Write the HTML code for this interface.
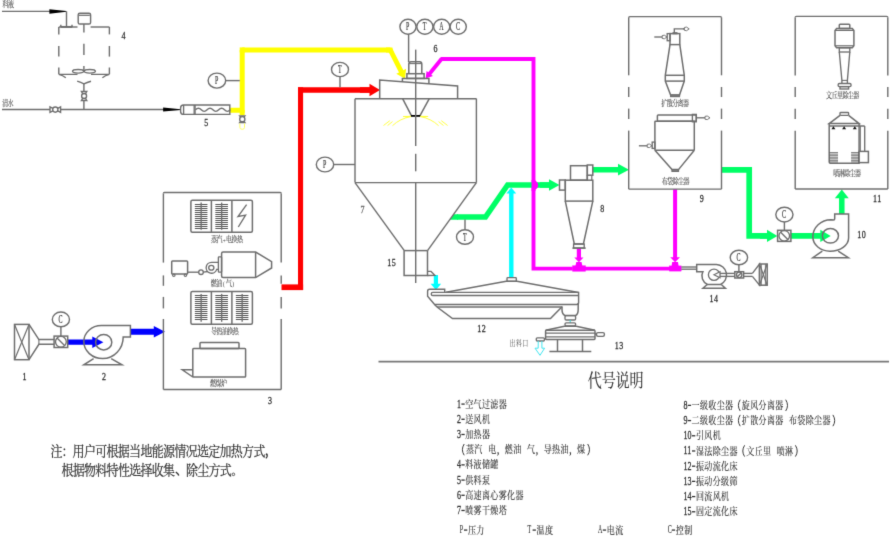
<!DOCTYPE html>
<html><head><meta charset="utf-8"><title>Spray drying process flow</title>
<style>
html,body{margin:0;padding:0;background:#fff;}
body{width:890px;height:536px;overflow:hidden;font-family:"Liberation Serif",serif;}
svg{display:block}
svg text{font-family:"Liberation Serif","Noto Serif CJK SC",serif;}
.ci{font-size:12px;fill:#333;stroke:#333;stroke-width:.18px}
.n{font-size:10px;fill:#2a2a2a;stroke:#2a2a2a;stroke-width:.25px;letter-spacing:.54px}
.s{font-size:8px;fill:#4a4a4a;stroke:#4a4a4a;stroke-width:.12px;letter-spacing:-.7px}
.s6{font-size:8px;fill:#666;stroke:#666;stroke-width:.2px;letter-spacing:-.9px}
.p6{font-size:6px;fill:#4a4a4a}
.lg{font-size:10px;fill:#303030;stroke:#303030;stroke-width:.125px;letter-spacing:.475px}
.ld{font-size:12px;fill:#303030;stroke:#303030;stroke-width:.3px;letter-spacing:.05px}
.lp{font-size:12px;fill:#303030;stroke:#303030;stroke-width:.12px}
.nt{font-size:14px;fill:#303030;stroke:#303030;stroke-width:.21px;letter-spacing:-.79px}
.tt{font-size:18px;fill:#303030;stroke:#303030;stroke-width:.135px;letter-spacing:-.13px}
</style></head><body>
<svg width="890" height="536" viewBox="0 0 890 536">
<defs><filter id="soft" x="0" y="0" width="100%" height="100%" filterUnits="userSpaceOnUse" color-interpolation-filters="sRGB"><feConvolveMatrix order="3" kernelMatrix="0.011 0.084 0.011 0.084 0.62 0.084 0.011 0.084 0.011" divisor="1" edgeMode="duplicate" preserveAlpha="true"/></filter></defs>
<rect width="890" height="536" fill="#fff"/>
<g filter="url(#soft)">
<rect x="-5" y="-5" width="900" height="546" fill="#fff"/>
<polyline points="229.8,110.2 242.2,110.2 242.2,49.9" fill="none" stroke="#ffff00" stroke-width="5" stroke-linejoin="miter"/>
<polyline points="242.2,49.9 390.3,49.9" fill="none" stroke="#ffff00" stroke-width="5" stroke-linejoin="miter"/>
<polygon points="239.7,47.4 244.7,47.4 244.7,52.4 239.7,52.4" fill="#ffff00"/>
<polygon points="388.12,51.11 399,72.43 396.28,73.82 405,78.8 406.08,68.82 403.36,70.2 392.48,48.89" fill="#ffff00"/>
<polygon points="386,47.4 392.4,47.4 393.5,52.4 386,52.4" fill="#ffff00"/>
<polyline points="242.2,110 242.2,115.2" fill="none" stroke="#ffff00" stroke-width="5" stroke-linejoin="miter"/>
<polygon points="281.5,284.4 303.1,284.4 303.1,290.1 281.5,290.1" fill="#ff0000"/>
<polygon points="298,87.2 303.1,87.2 303.1,290.1 298,290.1" fill="#ff0000"/>
<polygon points="298,87.2 371,87.2 371,92.8 298,92.8" fill="#ff0000"/>
<polygon points="360,92.8 369.5,92.8 369.5,96.25 380,90 369.5,83.75 369.5,87.2 360,87.2" fill="#ff0000"/>
<polygon points="67.7,344.85 92.3,344.85 92.3,347.9 103.4,342.2 92.3,336.5 92.3,339.55 67.7,339.55" fill="#0000ff"/>
<polygon points="130.8,334.8 153.8,334.8 153.8,337.6 165,331.8 153.8,326 153.8,328.8 130.8,328.8" fill="#0000ff"/>
<line x1="2" y1="11.4" x2="50" y2="11.4" stroke="#6e6e6e" stroke-width="1.42" />
<polygon points="49.4,9.2 66.3,11.1 66.3,11.8 49.4,13.7" fill="#000"/>
<line x1="66.5" y1="11.3" x2="66.5" y2="26.9" stroke="#6e6e6e" stroke-width="1.42" />
<line x1="60.6" y1="26.9" x2="72.3" y2="26.9" stroke="#6e6e6e" stroke-width="1.89" />
<line x1="60.8" y1="24.8" x2="60.8" y2="27" stroke="#6e6e6e" stroke-width="1.42" />
<line x1="72" y1="24.8" x2="72" y2="27" stroke="#6e6e6e" stroke-width="1.42" />
<line x1="58.8" y1="27" x2="77.5" y2="27" stroke="#6e6e6e" stroke-width="1.42" />
<line x1="90.6" y1="27" x2="109.4" y2="27" stroke="#6e6e6e" stroke-width="1.42" />
<line x1="58.8" y1="27" x2="58.8" y2="34.4" stroke="#6e6e6e" stroke-width="1.42" />
<line x1="58.8" y1="46" x2="58.8" y2="56.6" stroke="#6e6e6e" stroke-width="1.42" />
<line x1="58.8" y1="67.5" x2="58.8" y2="74.2" stroke="#6e6e6e" stroke-width="1.42" />
<line x1="109.4" y1="27" x2="109.4" y2="34.4" stroke="#6e6e6e" stroke-width="1.42" />
<line x1="109.4" y1="46" x2="109.4" y2="56.6" stroke="#6e6e6e" stroke-width="1.42" />
<line x1="109.4" y1="67.5" x2="109.4" y2="74.2" stroke="#6e6e6e" stroke-width="1.42" />
<path d="M58.8,74.4 L77.5,74.4 M58.8,74.4 Q63,75.5 65.8,77.8" fill="none" stroke="#6e6e6e" stroke-width="1.42" />
<path d="M109.4,74.4 L91,74.4 M109.4,74.4 Q105,75.5 102.4,77.8" fill="none" stroke="#6e6e6e" stroke-width="1.42" />
<rect x="78.2" y="13.2" width="12.4" height="10.8" rx="1.6" fill="none" stroke="#6e6e6e" stroke-width="1.42"/>
<line x1="79" y1="15.3" x2="89.8" y2="15.3" stroke="#6e6e6e" stroke-width="1.22" />
<line x1="83.9" y1="24" x2="83.9" y2="32.5" stroke="#6e6e6e" stroke-width="1.42" />
<line x1="83.9" y1="43.8" x2="83.9" y2="55" stroke="#6e6e6e" stroke-width="1.42" />
<line x1="83.9" y1="66" x2="83.9" y2="71.5" stroke="#6e6e6e" stroke-width="1.42" />
<ellipse cx="78.1" cy="71.3" rx="5.6" ry="1.8" fill="none" stroke="#6e6e6e" stroke-width="1.35"/>
<ellipse cx="89.8" cy="71.3" rx="5.6" ry="1.8" fill="none" stroke="#6e6e6e" stroke-width="1.35"/>
<path d="M77.2,81.2 Q81,82.5 83.9,83.8 Q87,82.5 91,81.2" fill="none" stroke="#6e6e6e" stroke-width="1.42" />
<line x1="83.9" y1="83.8" x2="83.9" y2="109.4" stroke="#6e6e6e" stroke-width="1.42" />
<polygon points="81.4,91.5 86.8,91.5 81.4,100.5 86.8,100.5" fill="#fff" stroke="#6e6e6e" stroke-width="1.35" />
<ellipse cx="84.1" cy="96" rx="2.5" ry="2.5" fill="#fff" stroke="#6e6e6e" stroke-width="1.35"/>
<line x1="2" y1="109.5" x2="164" y2="109.5" stroke="#6e6e6e" stroke-width="1.42" />
<polygon points="50,106.8 50,112.4 60.6,106.8 60.6,112.4" fill="#fff" stroke="#6e6e6e" stroke-width="1.35" />
<ellipse cx="55.3" cy="109.6" rx="2.6" ry="2.6" fill="#fff" stroke="#6e6e6e" stroke-width="1.35"/>
<polygon points="163.1,107.6 180.6,109.2 180.6,109.9 163.1,111.5" fill="#000"/>
<path d="M183.6,105 L229.8,105 L229.8,114.4 L183.6,114.4 Q180.6,114.4 180.6,111.4 L180.6,108 Q180.6,105 183.6,105 Z" fill="#fff" stroke="#6e6e6e" stroke-width="1.42" />
<line x1="183.6" y1="105" x2="183.6" y2="114.4" stroke="#6e6e6e" stroke-width="1.35" />
<line x1="194.2" y1="105" x2="194.2" y2="114.4" stroke="#6e6e6e" stroke-width="1.35" />
<line x1="195.2" y1="105" x2="195.2" y2="114.4" stroke="#6e6e6e" stroke-width="1.08" />
<path d="M195.5,109.8 c1.9,-2.1 3.9,-2.1 5.8,0 c1.9,2.1 3.9,2.1 5.8,0 c1.9,-2.1 3.9,-2.1 5.8,0 c1.9,2.1 3.9,2.1 5.8,0 c1.9,-2.1 3.9,-2.1 5.8,0 c1.9,2.1 3.9,2.1 5.8,0" fill="none" stroke="#6e6e6e" stroke-width="1.35" />
<polygon points="239.7,115.8 244.9,115.8 239.7,122.6 244.9,122.6" fill="#fff" stroke="#6e6e6e" stroke-width="1.35" />
<ellipse cx="242.3" cy="119.2" rx="2.6" ry="2.6" fill="#fff" stroke="#6e6e6e" stroke-width="1.35"/>
<path d="M239.9,123.4 L239.9,127.5 Q239.9,129.3 242.2,129.3 Q244.5,129.3 244.5,127.5 L244.5,123.4" fill="none" stroke="#ffff66" stroke-width="1" />
<line x1="225.7" y1="80.6" x2="239.8" y2="80.6" stroke="#6e6e6e" stroke-width="1.42" />
<ellipse cx="216.9" cy="80.6" rx="8.8" ry="7.5" fill="#fff" stroke="#6e6e6e" stroke-width="1.42"/>
<text class="ci" transform="translate(214.97,84.1) scale(0.5,1)">P</text>
<text class="n" transform="translate(121.6,38.7) scale(0.8,1)">4</text>
<text class="n" transform="translate(204.2,126) scale(0.8,1)">5</text>
<text class="s6" transform="translate(2.6,7.28) scale(0.75,1)" letter-spacing="-1.07">料液</text>
<text class="s6" transform="translate(2.2,105.61) scale(0.75,1)" letter-spacing="-0.8">清水</text>
<rect x="14.5" y="324.4" width="14.5" height="35.3" rx="0" fill="none" stroke="#6e6e6e" stroke-width="1.49"/>
<line x1="14.5" y1="324.4" x2="29" y2="359.7" stroke="#6e6e6e" stroke-width="1.22" />
<line x1="14.5" y1="359.7" x2="29" y2="324.4" stroke="#6e6e6e" stroke-width="1.22" />
<polyline points="29,324.4 38.9,339.6 54.1,339.6" fill="none" stroke="#6e6e6e" stroke-width="1.49" />
<polyline points="29,359.7 38.9,344.3 54.1,344.3" fill="none" stroke="#6e6e6e" stroke-width="1.49" />
<line x1="38.9" y1="339.6" x2="38.9" y2="344.3" stroke="#6e6e6e" stroke-width="1.08" />
<rect x="54.1" y="336.1" width="13.6" height="11.4" rx="0" fill="#fff" stroke="#6e6e6e" stroke-width="1.49"/>
<ellipse cx="60.9" cy="341.8" rx="5.4" ry="5.4" fill="none" stroke="#6e6e6e" stroke-width="1.35"/>
<line x1="57.01" y1="337.91" x2="64.79" y2="345.69" stroke="#6e6e6e" stroke-width="1.35" />
<line x1="60.9" y1="326.7" x2="60.9" y2="336.1" stroke="#6e6e6e" stroke-width="1.42" />
<ellipse cx="60.9" cy="319.4" rx="8.6" ry="7.4" fill="#fff" stroke="#6e6e6e" stroke-width="1.42"/>
<text class="ci" transform="translate(58.58,322.9) scale(0.5,1)">C</text>
<path d="M101.4,325.6 L130.4,325.6 L130.4,337 L123.2,337 A20.5,21.6 0 0 1 102.7,358.6 A18.9,17 0 0 1 83.8,341.6 A17.6,16 0 0 1 101.4,325.6" fill="none" stroke="#6e6e6e" stroke-width="1.49" />
<ellipse cx="103.7" cy="342.2" rx="8.1" ry="7.7" fill="none" stroke="#6e6e6e" stroke-width="1.49"/>
<polyline points="93.6,358.6 83.8,364.8 122,364.8 111.2,358.6" fill="none" stroke="#6e6e6e" stroke-width="1.49" />
<text class="n" transform="translate(22.5,379.6) scale(0.8,1)">1</text>
<text class="n" transform="translate(102,379.6) scale(0.8,1)">2</text>
<path d="M163.4,193.5 Q163.4,192.5 164.4,192.5 L280.2,192.5 Q281.2,192.5 281.2,193.5" fill="none" stroke="#6e6e6e" stroke-width="1.42" />
<line x1="163.4" y1="389.5" x2="281.2" y2="389.5" stroke="#6e6e6e" stroke-width="1.42" />
<line x1="163.4" y1="193.5" x2="163.4" y2="262.6" stroke="#6e6e6e" stroke-width="1.42" />
<line x1="163.4" y1="275.4" x2="163.4" y2="285.8" stroke="#6e6e6e" stroke-width="1.42" />
<line x1="163.4" y1="296.9" x2="163.4" y2="308.4" stroke="#6e6e6e" stroke-width="1.42" />
<line x1="163.4" y1="319" x2="163.4" y2="389.5" stroke="#6e6e6e" stroke-width="1.42" />
<line x1="281.2" y1="193.5" x2="281.2" y2="262.6" stroke="#6e6e6e" stroke-width="1.42" />
<line x1="281.2" y1="275.4" x2="281.2" y2="283.8" stroke="#6e6e6e" stroke-width="1.42" />
<line x1="281.2" y1="296.9" x2="281.2" y2="308.4" stroke="#6e6e6e" stroke-width="1.42" />
<line x1="281.2" y1="319" x2="281.2" y2="389.5" stroke="#6e6e6e" stroke-width="1.42" />
<rect x="190.9" y="200.2" width="61.5" height="32" rx="1.5" fill="none" stroke="#6e6e6e" stroke-width="1.49"/>
<line x1="211.4" y1="200.2" x2="211.4" y2="232.2" stroke="#6e6e6e" stroke-width="1.49" />
<line x1="231.9" y1="200.2" x2="231.9" y2="232.2" stroke="#6e6e6e" stroke-width="1.49" />
<line x1="194.85" y1="204.5" x2="207.45" y2="204.5" stroke="#555" stroke-width="1" />
<line x1="194.85" y1="206.5" x2="207.45" y2="206.5" stroke="#555" stroke-width="1" />
<line x1="194.85" y1="208.5" x2="207.45" y2="208.5" stroke="#555" stroke-width="1" />
<line x1="194.85" y1="210.5" x2="207.45" y2="210.5" stroke="#555" stroke-width="1" />
<line x1="194.85" y1="212.5" x2="207.45" y2="212.5" stroke="#555" stroke-width="1" />
<line x1="194.85" y1="214.5" x2="207.45" y2="214.5" stroke="#555" stroke-width="1" />
<line x1="194.85" y1="216.5" x2="207.45" y2="216.5" stroke="#555" stroke-width="1" />
<line x1="194.85" y1="218.5" x2="207.45" y2="218.5" stroke="#555" stroke-width="1" />
<line x1="194.85" y1="220.5" x2="207.45" y2="220.5" stroke="#555" stroke-width="1" />
<line x1="194.85" y1="222.5" x2="207.45" y2="222.5" stroke="#555" stroke-width="1" />
<line x1="194.85" y1="224.5" x2="207.45" y2="224.5" stroke="#555" stroke-width="1" />
<line x1="194.85" y1="226.5" x2="207.45" y2="226.5" stroke="#555" stroke-width="1" />
<line x1="194.85" y1="228.5" x2="207.45" y2="228.5" stroke="#555" stroke-width="1" />
<line x1="201.15" y1="202.6" x2="201.15" y2="229.8" stroke="#6e6e6e" stroke-width="1.35" />
<line x1="215.35" y1="204.5" x2="227.95" y2="204.5" stroke="#555" stroke-width="1" />
<line x1="215.35" y1="206.5" x2="227.95" y2="206.5" stroke="#555" stroke-width="1" />
<line x1="215.35" y1="208.5" x2="227.95" y2="208.5" stroke="#555" stroke-width="1" />
<line x1="215.35" y1="210.5" x2="227.95" y2="210.5" stroke="#555" stroke-width="1" />
<line x1="215.35" y1="212.5" x2="227.95" y2="212.5" stroke="#555" stroke-width="1" />
<line x1="215.35" y1="214.5" x2="227.95" y2="214.5" stroke="#555" stroke-width="1" />
<line x1="215.35" y1="216.5" x2="227.95" y2="216.5" stroke="#555" stroke-width="1" />
<line x1="215.35" y1="218.5" x2="227.95" y2="218.5" stroke="#555" stroke-width="1" />
<line x1="215.35" y1="220.5" x2="227.95" y2="220.5" stroke="#555" stroke-width="1" />
<line x1="215.35" y1="222.5" x2="227.95" y2="222.5" stroke="#555" stroke-width="1" />
<line x1="215.35" y1="224.5" x2="227.95" y2="224.5" stroke="#555" stroke-width="1" />
<line x1="215.35" y1="226.5" x2="227.95" y2="226.5" stroke="#555" stroke-width="1" />
<line x1="215.35" y1="228.5" x2="227.95" y2="228.5" stroke="#555" stroke-width="1" />
<line x1="221.65" y1="202.6" x2="221.65" y2="229.8" stroke="#6e6e6e" stroke-width="1.35" />
<polyline points="246.6,204.6 238,216.5 245.6,215.2 238.3,227" fill="none" stroke="#6e6e6e" stroke-width="1.35" />
<rect x="190.9" y="291.5" width="61.5" height="32.7" rx="1.5" fill="none" stroke="#6e6e6e" stroke-width="1.49"/>
<line x1="211.4" y1="291.5" x2="211.4" y2="324.2" stroke="#6e6e6e" stroke-width="1.49" />
<line x1="231.9" y1="291.5" x2="231.9" y2="324.2" stroke="#6e6e6e" stroke-width="1.49" />
<line x1="194.85" y1="295.5" x2="207.45" y2="295.5" stroke="#555" stroke-width="1" />
<line x1="194.85" y1="297.5" x2="207.45" y2="297.5" stroke="#555" stroke-width="1" />
<line x1="194.85" y1="299.5" x2="207.45" y2="299.5" stroke="#555" stroke-width="1" />
<line x1="194.85" y1="301.5" x2="207.45" y2="301.5" stroke="#555" stroke-width="1" />
<line x1="194.85" y1="303.5" x2="207.45" y2="303.5" stroke="#555" stroke-width="1" />
<line x1="194.85" y1="305.5" x2="207.45" y2="305.5" stroke="#555" stroke-width="1" />
<line x1="194.85" y1="307.5" x2="207.45" y2="307.5" stroke="#555" stroke-width="1" />
<line x1="194.85" y1="309.5" x2="207.45" y2="309.5" stroke="#555" stroke-width="1" />
<line x1="194.85" y1="311.5" x2="207.45" y2="311.5" stroke="#555" stroke-width="1" />
<line x1="194.85" y1="313.5" x2="207.45" y2="313.5" stroke="#555" stroke-width="1" />
<line x1="194.85" y1="315.5" x2="207.45" y2="315.5" stroke="#555" stroke-width="1" />
<line x1="194.85" y1="317.5" x2="207.45" y2="317.5" stroke="#555" stroke-width="1" />
<line x1="194.85" y1="319.5" x2="207.45" y2="319.5" stroke="#555" stroke-width="1" />
<line x1="201.15" y1="293.9" x2="201.15" y2="321.8" stroke="#6e6e6e" stroke-width="1.35" />
<line x1="215.35" y1="295.5" x2="227.95" y2="295.5" stroke="#555" stroke-width="1" />
<line x1="215.35" y1="297.5" x2="227.95" y2="297.5" stroke="#555" stroke-width="1" />
<line x1="215.35" y1="299.5" x2="227.95" y2="299.5" stroke="#555" stroke-width="1" />
<line x1="215.35" y1="301.5" x2="227.95" y2="301.5" stroke="#555" stroke-width="1" />
<line x1="215.35" y1="303.5" x2="227.95" y2="303.5" stroke="#555" stroke-width="1" />
<line x1="215.35" y1="305.5" x2="227.95" y2="305.5" stroke="#555" stroke-width="1" />
<line x1="215.35" y1="307.5" x2="227.95" y2="307.5" stroke="#555" stroke-width="1" />
<line x1="215.35" y1="309.5" x2="227.95" y2="309.5" stroke="#555" stroke-width="1" />
<line x1="215.35" y1="311.5" x2="227.95" y2="311.5" stroke="#555" stroke-width="1" />
<line x1="215.35" y1="313.5" x2="227.95" y2="313.5" stroke="#555" stroke-width="1" />
<line x1="215.35" y1="315.5" x2="227.95" y2="315.5" stroke="#555" stroke-width="1" />
<line x1="215.35" y1="317.5" x2="227.95" y2="317.5" stroke="#555" stroke-width="1" />
<line x1="215.35" y1="319.5" x2="227.95" y2="319.5" stroke="#555" stroke-width="1" />
<line x1="221.65" y1="293.9" x2="221.65" y2="321.8" stroke="#6e6e6e" stroke-width="1.35" />
<line x1="235.85" y1="295.5" x2="248.45" y2="295.5" stroke="#555" stroke-width="1" />
<line x1="235.85" y1="297.5" x2="248.45" y2="297.5" stroke="#555" stroke-width="1" />
<line x1="235.85" y1="299.5" x2="248.45" y2="299.5" stroke="#555" stroke-width="1" />
<line x1="235.85" y1="301.5" x2="248.45" y2="301.5" stroke="#555" stroke-width="1" />
<line x1="235.85" y1="303.5" x2="248.45" y2="303.5" stroke="#555" stroke-width="1" />
<line x1="235.85" y1="305.5" x2="248.45" y2="305.5" stroke="#555" stroke-width="1" />
<line x1="235.85" y1="307.5" x2="248.45" y2="307.5" stroke="#555" stroke-width="1" />
<line x1="235.85" y1="309.5" x2="248.45" y2="309.5" stroke="#555" stroke-width="1" />
<line x1="235.85" y1="311.5" x2="248.45" y2="311.5" stroke="#555" stroke-width="1" />
<line x1="235.85" y1="313.5" x2="248.45" y2="313.5" stroke="#555" stroke-width="1" />
<line x1="235.85" y1="315.5" x2="248.45" y2="315.5" stroke="#555" stroke-width="1" />
<line x1="235.85" y1="317.5" x2="248.45" y2="317.5" stroke="#555" stroke-width="1" />
<line x1="235.85" y1="319.5" x2="248.45" y2="319.5" stroke="#555" stroke-width="1" />
<line x1="242.15" y1="293.9" x2="242.15" y2="321.8" stroke="#6e6e6e" stroke-width="1.35" />
<rect x="171.7" y="261" width="15.9" height="13.1" rx="0.8" fill="none" stroke="#6e6e6e" stroke-width="1.49"/>
<ellipse cx="173.8" cy="275.2" rx="1.2" ry="1.2" fill="none" stroke="#6e6e6e" stroke-width="1.22"/>
<ellipse cx="185.4" cy="275.2" rx="1.2" ry="1.2" fill="none" stroke="#6e6e6e" stroke-width="1.22"/>
<line x1="187.6" y1="272.2" x2="198.7" y2="272.2" stroke="#6e6e6e" stroke-width="1.35" />
<ellipse cx="201" cy="272.2" rx="2.3" ry="2.3" fill="none" stroke="#6e6e6e" stroke-width="1.35"/>
<line x1="203.3" y1="272.2" x2="208" y2="271.5" stroke="#6e6e6e" stroke-width="1.35" />
<path d="M218.4,262.4 L211.5,262.4 A5.4,5.4 0 1 0 216.7,269.4 L218.4,269.4" fill="none" stroke="#6e6e6e" stroke-width="1.35" />
<ellipse cx="211.3" cy="267.8" rx="2.6" ry="2.4" fill="none" stroke="#6e6e6e" stroke-width="1.35"/>
<rect x="218.4" y="256.8" width="3.2" height="15.4" rx="0.6" fill="none" stroke="#6e6e6e" stroke-width="1.35"/>
<path d="M223.1,252 L255.6,252 L271.6,261.6 L271.6,268 L255.6,277.6 L223.1,277.6 Q221.6,277.6 221.6,276.1 L221.6,253.5 Q221.6,252 223.1,252 Z" fill="none" stroke="#6e6e6e" stroke-width="1.49" />
<line x1="255.6" y1="252" x2="255.6" y2="277.6" stroke="#6e6e6e" stroke-width="1.49" />
<rect x="200" y="342.5" width="39" height="6.1" rx="0.8" fill="none" stroke="#6e6e6e" stroke-width="1.49"/>
<rect x="192.8" y="348.6" width="52.8" height="28.4" rx="0.8" fill="none" stroke="#6e6e6e" stroke-width="1.49"/>
<polyline points="192.8,369.8 182.3,369.8 192.8,377" fill="none" stroke="#6e6e6e" stroke-width="1.49" />
<text class="n" transform="translate(268,404) scale(0.8,1)">3</text>
<text class="s" transform="translate(211,242.41) scale(0.75,1)" letter-spacing="-0.73">蒸汽</text>
<text class="p6" x="222.5" y="242.6">+</text>
<text class="s" transform="translate(226.1,242.41) scale(0.75,1)" letter-spacing="-0.73">电换热</text>
<text class="s" transform="translate(210.7,285.91) scale(0.75,1)" letter-spacing="-0.73">燃油</text>
<text class="p6" x="222.8" y="285.6">(</text>
<text class="s" transform="translate(226.1,285.91) scale(0.75,1)">气</text>
<text class="p6" x="232.3" y="285.6">)</text>
<text class="s" transform="translate(211,333.91) scale(0.75,1)" letter-spacing="-0.73">导热油换热</text>
<text class="s" transform="translate(210,385.61) scale(0.75,1)" letter-spacing="-1.33">燃煤炉</text>
<polyline points="441,59 533.5,59 533.5,268.6 572.5,268.6" fill="none" stroke="#ff00ff" stroke-width="3.9" stroke-linejoin="miter"/>
<polyline points="572.5,268.6 681.3,268.6" fill="none" stroke="#ff00ff" stroke-width="3.9" stroke-linejoin="miter"/>
<polygon points="440.39,57.37 428.26,72.25 426.59,70.89 425.6,78.6 432.95,76.07 431.28,74.72 443.41,59.83" fill="#ff00ff"/>
<polyline points="457,217 485.5,217 507.6,185 551,185" fill="none" stroke="#00ff66" stroke-width="5.4" stroke-linejoin="miter"/>
<polygon points="453.7,214.3 458,214.3 458,219.7 449.8,219.7" fill="#00ff66"/>
<polygon points="540,187.7 549,187.7 549,190.8 559.5,185 549,179.2 549,182.3 540,182.3" fill="#00ff66"/>
<path d="M533.5,181 A4,4.2 0 0 1 533.5,189.4" fill="#ff00ff" stroke="#ff00ff" stroke-width="1.2"/>
<polyline points="533.5,180 533.5,191" fill="none" stroke="#ff00ff" stroke-width="3.9" stroke-linejoin="miter"/>
<polyline points="511.3,277.6 511.3,192" fill="none" stroke="#00ffff" stroke-width="4.4" stroke-linejoin="miter"/>
<polygon points="506.3,193.4 511.3,187.6 516.2,193.4" fill="#00ffff"/>
<polygon points="433.8,275 433.8,283.7 430.65,283.7 435.9,290 441.15,283.7 438,283.7 438,275" fill="#00ffff"/>
<line x1="408.6" y1="34" x2="408.6" y2="62" stroke="#6e6e6e" stroke-width="1.42" />
<ellipse cx="408" cy="26.8" rx="8.1" ry="7.5" fill="#fff" stroke="#6e6e6e" stroke-width="1.42"/>
<text class="ci" transform="translate(406.07,30.3) scale(0.5,1)">P</text>
<ellipse cx="424.9" cy="26.8" rx="8.1" ry="7.5" fill="#fff" stroke="#6e6e6e" stroke-width="1.42"/>
<text class="ci" transform="translate(422.78,30.3) scale(0.5,1)">T</text>
<ellipse cx="441.7" cy="26.8" rx="8.1" ry="7.5" fill="#fff" stroke="#6e6e6e" stroke-width="1.42"/>
<text class="ci" transform="translate(439.19,30.3) scale(0.5,1)">A</text>
<ellipse cx="458.2" cy="26.8" rx="8.1" ry="7.5" fill="#fff" stroke="#6e6e6e" stroke-width="1.42"/>
<text class="ci" transform="translate(455.88,30.3) scale(0.5,1)">C</text>
<text class="n" transform="translate(433.6,52) scale(0.8,1)">6</text>
<line x1="340" y1="76.5" x2="340" y2="87.2" stroke="#6e6e6e" stroke-width="1.42" />
<ellipse cx="340" cy="69.5" rx="8.5" ry="7.1" fill="#fff" stroke="#6e6e6e" stroke-width="1.42"/>
<text class="ci" transform="translate(337.88,73) scale(0.5,1)">T</text>
<path d="M408.8,73.8 L408.8,64 Q408.8,61.7 411,61.7 L419.6,61.7 Q421.8,61.7 421.8,64 L421.8,73.8" fill="none" stroke="#6e6e6e" stroke-width="1.49" />
<line x1="409.2" y1="63.6" x2="421.4" y2="63.6" stroke="#6e6e6e" stroke-width="1.08" />
<rect x="406.9" y="73.7" width="17.2" height="4.7" rx="0" fill="none" stroke="#6e6e6e" stroke-width="1.49"/>
<polyline points="402.4,81.6 402.4,78.4 428.9,78.4 428.9,83.7" fill="none" stroke="#6e6e6e" stroke-width="1.49" />
<polyline points="379.7,98.6 379.7,80 457.6,85.9 457.6,98.6" fill="none" stroke="#6e6e6e" stroke-width="1.49" />
<line x1="355" y1="98.7" x2="476.5" y2="98.7" stroke="#6e6e6e" stroke-width="1.42" />
<line x1="355" y1="98.7" x2="355" y2="182.6" stroke="#6e6e6e" stroke-width="1.42" />
<line x1="476.4" y1="98.7" x2="476.4" y2="182.6" stroke="#6e6e6e" stroke-width="1.42" />
<line x1="355" y1="182.6" x2="476.4" y2="182.6" stroke="#6e6e6e" stroke-width="1.42" />
<line x1="355" y1="182.6" x2="404.3" y2="250.6" stroke="#6e6e6e" stroke-width="1.42" />
<line x1="476.4" y1="182.6" x2="427.5" y2="250.6" stroke="#6e6e6e" stroke-width="1.42" />
<line x1="402.6" y1="98.7" x2="411.4" y2="115.7" stroke="#6e6e6e" stroke-width="1.49" />
<line x1="429.3" y1="98.7" x2="420" y2="115.7" stroke="#6e6e6e" stroke-width="1.49" />
<line x1="411" y1="115.9" x2="420.4" y2="115.9" stroke="#000" stroke-width="1.8" />
<path d="M411,116.3 L403,116.5 M411,116.6 Q400,118.5 392.5,125.7" fill="none" stroke="#ffff30" stroke-width="0.9" />
<path d="M420.2,116.3 L428.2,116.5 M420.2,116.6 Q431,118.5 438.6,125.7" fill="none" stroke="#ffff30" stroke-width="0.9" />
<polygon points="411,116.2 403,116.4 406,117.6" fill="#ffff30"/>
<polygon points="420.2,116.2 428.2,116.4 425.2,117.6" fill="#ffff30"/>
<line x1="383.5" y1="125.5" x2="389.8" y2="120.7" stroke="#ffff30" stroke-width="0.9" />
<line x1="387.6" y1="125.5" x2="392.5" y2="121.6" stroke="#ffff30" stroke-width="0.9" />
<line x1="447.6" y1="125.5" x2="441.3" y2="120.7" stroke="#ffff30" stroke-width="0.9" />
<line x1="443.5" y1="125.5" x2="438.6" y2="121.6" stroke="#ffff30" stroke-width="0.9" />
<line x1="415.7" y1="49.6" x2="415.7" y2="146" stroke="#6e6e6e" stroke-width="1.42" />
<line x1="415.7" y1="153.8" x2="415.7" y2="171.3" stroke="#6e6e6e" stroke-width="1.42" />
<line x1="415.7" y1="182.6" x2="415.7" y2="283" stroke="#6e6e6e" stroke-width="1.42" />
<line x1="333.6" y1="164.5" x2="355" y2="164.5" stroke="#6e6e6e" stroke-width="1.42" />
<ellipse cx="325" cy="164.5" rx="8.7" ry="7.4" fill="#fff" stroke="#6e6e6e" stroke-width="1.42"/>
<text class="ci" transform="translate(323.07,168) scale(0.5,1)">P</text>
<text class="n" transform="translate(360.5,212.6) scale(0.8,1)" style="fill:#666;stroke:#666">7</text>
<line x1="465" y1="219.6" x2="465" y2="229.8" stroke="#6e6e6e" stroke-width="1.42" />
<ellipse cx="465" cy="237" rx="8.5" ry="7.3" fill="#fff" stroke="#6e6e6e" stroke-width="1.42"/>
<text class="ci" transform="translate(462.88,240.5) scale(0.5,1)">T</text>
<polyline points="404.1,250.6 404.1,275.5 427.5,275.5 427.5,250.6" fill="none" stroke="#6e6e6e" stroke-width="1.49" />
<line x1="404.1" y1="250.6" x2="427.5" y2="250.6" stroke="#6e6e6e" stroke-width="1.49" />
<polyline points="427.5,271.4 431,271.4 434.9,275.3 427.5,275.5" fill="none" stroke="#6e6e6e" stroke-width="1.35" />
<text class="n" transform="translate(387.3,265.5) scale(0.8,1)">15</text>
<polyline points="446,292.3 506.2,281.3 517,281.3 578.6,292.4" fill="none" stroke="#6e6e6e" stroke-width="1.49" />
<rect x="507" y="277.6" width="9.3" height="3.7" rx="0.8" fill="none" stroke="#6e6e6e" stroke-width="1.35"/>
<path d="M444.7,292.4 L444.7,289.3 L429.6,289.3 Q427.6,289.3 427.6,291.3 L427.6,296.2 L434.6,304.5 L576.6,304.5 Q578.6,304.5 578.6,302.5 L578.6,292.4 L432.8,292.4 A1.5,1.5 0 0 0 432.8,295.5 L578.6,295.5" fill="none" stroke="#6e6e6e" stroke-width="1.42" />
<line x1="437" y1="307" x2="562.3" y2="307" stroke="#6e6e6e" stroke-width="1.35" />
<line x1="434.6" y1="304.5" x2="437" y2="307" stroke="#6e6e6e" stroke-width="1.35" />
<polyline points="437,307 452.5,318.6 550.5,318.6 561.8,307" fill="none" stroke="#6e6e6e" stroke-width="1.49" />
<path d="M562,306.6 L562,309.5 Q562,314 565,315.6 L575.6,315.6 Q578.2,314 578.2,309.5 L578.2,303" fill="none" stroke="#6e6e6e" stroke-width="1.49" />
<rect x="565" y="315.6" width="10.6" height="4.4" rx="1.2" fill="none" stroke="#6e6e6e" stroke-width="1.35"/>
<line x1="570.2" y1="320" x2="570.2" y2="322.8" stroke="#33dddd" stroke-width="1" />
<rect x="565" y="322.8" width="10.6" height="3" rx="1.2" fill="none" stroke="#6e6e6e" stroke-width="1.35"/>
<text class="n" transform="translate(477.3,331.8) scale(0.8,1)">12</text>
<polyline points="545.6,330.3 564.4,326.3 576.3,326.3 595,330.3" fill="none" stroke="#6e6e6e" stroke-width="1.49" />
<rect x="545.6" y="330.3" width="49.4" height="9.1" rx="0.8" fill="none" stroke="#6e6e6e" stroke-width="1.49"/>
<line x1="545.6" y1="333.2" x2="595" y2="333.2" stroke="#6e6e6e" stroke-width="1.22" />
<line x1="545.6" y1="336.9" x2="595" y2="336.9" stroke="#6e6e6e" stroke-width="1.22" />
<rect x="596.5" y="332.6" width="7.9" height="3.7" rx="1.5" fill="none" stroke="#6e6e6e" stroke-width="1.35"/>
<line x1="595" y1="334" x2="596.5" y2="334" stroke="#6e6e6e" stroke-width="1.35" />
<rect x="536.3" y="337.8" width="8.1" height="3.2" rx="1" fill="none" stroke="#6e6e6e" stroke-width="1.35"/>
<line x1="544.4" y1="339" x2="545.6" y2="338.5" stroke="#6e6e6e" stroke-width="1.35" />
<line x1="557.5" y1="339.4" x2="557.5" y2="351.5" stroke="#6e6e6e" stroke-width="1.49" />
<line x1="582.5" y1="339.4" x2="582.5" y2="351.5" stroke="#6e6e6e" stroke-width="1.49" />
<line x1="549.4" y1="351.5" x2="591.3" y2="351.5" stroke="#6e6e6e" stroke-width="1.49" />
<polyline points="538.2,341 538.2,348.2 535,348.2 540,355.3 544.6,348.2 541.9,348.2 541.9,341" fill="none" stroke="#44e6f0" stroke-width="1" />
<text class="n" transform="translate(614.8,348.8) scale(0.8,1)">13</text>
<text transform="translate(509.5,345.79) scale(0.75,1)" font-size="8" fill="#505050" letter-spacing="0.53">出料口</text>
<polygon points="592.8,172.4 618,172.4 618,175.55 629,169.7 618,163.85 618,167 592.8,167" fill="#00ff66"/>
<polyline points="721.5,169.9 749.2,169.9 749.2,235.9 768,235.9" fill="none" stroke="#00ff66" stroke-width="5.7" stroke-linejoin="miter"/>
<polygon points="760,238.85 767,238.85 767,242 777.4,235.9 767,229.8 767,232.95 760,232.95" fill="#00ff66"/>
<polygon points="790.9,238.85 820.3,238.85 820.3,242.1 830.7,235.9 820.3,229.7 820.3,232.95 790.9,232.95" fill="#00ff66"/>
<polygon points="844.55,214 844.55,198.3 848.75,198.3 841.8,189.5 834.85,198.3 839.05,198.3 839.05,214" fill="#00ff66"/>
<polygon points="576.8,248.2 576.8,257.4 574.3,257.4 578.9,262.2 583.5,257.4 581,257.4 581,248.2" fill="#ff00ff"/>
<polygon points="576.3,262 581.5,262 582.4,266 575.4,266" fill="#ff00ff"/>
<rect x="572.4" y="265.5" width="13.3" height="6" rx="0" fill="#ff00ff" stroke="#ff00ff" stroke-width="0.1"/>
<polygon points="673.1,189.3 673.1,257.3 670.25,257.3 675.1,262.3 679.95,257.3 677.1,257.3 677.1,189.3" fill="#ff00ff"/>
<polygon points="672.2,262 678,262 678.6,266 671.6,266" fill="#ff00ff"/>
<rect x="669.2" y="265.7" width="12.1" height="5.6" rx="0" fill="#ff00ff" stroke="#ff00ff" stroke-width="0.1"/>
<rect x="559.5" y="180" width="5.8" height="10.1" rx="0" fill="none" stroke="#6e6e6e" stroke-width="1.49"/>
<rect x="565.3" y="180.2" width="27.5" height="20.9" rx="0" fill="none" stroke="#6e6e6e" stroke-width="1.49"/>
<rect x="570.5" y="165.7" width="16.8" height="14.5" rx="0" fill="none" stroke="#6e6e6e" stroke-width="1.49"/>
<rect x="587.3" y="165" width="5.5" height="10.2" rx="0" fill="none" stroke="#6e6e6e" stroke-width="1.49"/>
<line x1="587.3" y1="175.2" x2="587.3" y2="180.2" stroke="#6e6e6e" stroke-width="1.49" />
<line x1="591.8" y1="175.2" x2="591.8" y2="180.2" stroke="#6e6e6e" stroke-width="1.22" />
<polyline points="565.3,201.1 574.3,244 583.4,244 592.8,201.1" fill="none" stroke="#6e6e6e" stroke-width="1.49" />
<rect x="573.6" y="244" width="10.6" height="4" rx="0" fill="none" stroke="#6e6e6e" stroke-width="1.35"/>
<line x1="572.4" y1="248.1" x2="585.7" y2="248.1" stroke="#6e6e6e" stroke-width="1.49" />
<text class="n" transform="translate(600.2,211.8) scale(0.8,1)">8</text>
<path d="M628.7,17.8 Q628.7,16.6 629.9000000000001,16.6 L720.3,16.6 Q721.5,16.6 721.5,17.8" fill="none" stroke="#6e6e6e" stroke-width="1.42" />
<line x1="628.7" y1="189.1" x2="721.5" y2="189.1" stroke="#6e6e6e" stroke-width="1.42" />
<line x1="628.7" y1="17.6" x2="628.7" y2="75.3" stroke="#6e6e6e" stroke-width="1.42" />
<line x1="628.7" y1="87" x2="628.7" y2="97" stroke="#6e6e6e" stroke-width="1.42" />
<line x1="628.7" y1="108.6" x2="628.7" y2="119" stroke="#6e6e6e" stroke-width="1.42" />
<line x1="628.7" y1="130.6" x2="628.7" y2="189.1" stroke="#6e6e6e" stroke-width="1.42" />
<line x1="721.5" y1="17.6" x2="721.5" y2="75.3" stroke="#6e6e6e" stroke-width="1.42" />
<line x1="721.5" y1="87" x2="721.5" y2="97" stroke="#6e6e6e" stroke-width="1.42" />
<line x1="721.5" y1="108.6" x2="721.5" y2="119" stroke="#6e6e6e" stroke-width="1.42" />
<line x1="721.5" y1="130.6" x2="721.5" y2="189.1" stroke="#6e6e6e" stroke-width="1.42" />
<rect x="670" y="33.6" width="9.8" height="11" rx="0" fill="none" stroke="#6e6e6e" stroke-width="1.49"/>
<polyline points="670,44.6 665.3,75.3 665.3,81.1 670.6,95 679.5,95 684.3,81.1 684.3,75.3 679.8,44.6" fill="none" stroke="#6e6e6e" stroke-width="1.49" />
<line x1="665.3" y1="75.3" x2="684.3" y2="75.3" stroke="#6e6e6e" stroke-width="1.49" />
<line x1="665.3" y1="81.1" x2="684.3" y2="81.1" stroke="#6e6e6e" stroke-width="1.49" />
<rect x="670.6" y="95" width="8.9" height="1.6" rx="0" fill="#888" stroke="#6e6e6e" stroke-width="1.22"/>
<rect x="667.2" y="33.6" width="2.8" height="7.1" rx="0" fill="none" stroke="#6e6e6e" stroke-width="1.35"/>
<line x1="654.3" y1="37" x2="662.2" y2="37" stroke="#6e6e6e" stroke-width="1.35" />
<polygon points="662.2,35.56 664.36,35.2 667,37 664.36,38.8 662.2,38.44" fill="none" stroke="#6e6e6e" stroke-width="0.94" />
<polyline points="674.3,33.6 674.3,28.9 684,28.9" fill="none" stroke="#6e6e6e" stroke-width="1.35" />
<line x1="683" y1="28.9" x2="684.4" y2="28.9" stroke="#6e6e6e" stroke-width="1.35" />
<polygon points="684.4,27.46 686.56,27.1 689.2,28.9 686.56,30.7 684.4,30.34" fill="none" stroke="#6e6e6e" stroke-width="0.94" />
<line x1="672.5" y1="33.2" x2="677.5" y2="33.2" stroke="#6e6e6e" stroke-width="2.16" />
<rect x="657.4" y="114.9" width="38.9" height="6.3" rx="0.8" fill="none" stroke="#6e6e6e" stroke-width="1.49"/>
<rect x="692.4" y="114.4" width="3.9" height="7.4" rx="0" fill="none" stroke="#6e6e6e" stroke-width="1.35"/>
<line x1="696.3" y1="117.8" x2="705" y2="117.8" stroke="#6e6e6e" stroke-width="1.35" />
<polygon points="705,116.36 707.25,116 710,117.8 707.25,119.6 705,119.24" fill="none" stroke="#6e6e6e" stroke-width="0.94" />
<rect x="654.9" y="121.2" width="39.4" height="29" rx="0.6" fill="none" stroke="#6e6e6e" stroke-width="1.49"/>
<polyline points="654.9,150.2 672,169.6 678.5,169.6 694.3,150.2" fill="none" stroke="#6e6e6e" stroke-width="1.49" />
<rect x="672" y="169.6" width="6.5" height="1.8" rx="0" fill="#888" stroke="#6e6e6e" stroke-width="1.22"/>
<rect x="652.2" y="142.1" width="2.7" height="6.3" rx="0" fill="none" stroke="#6e6e6e" stroke-width="1.35"/>
<line x1="638.9" y1="145.8" x2="647.2" y2="145.8" stroke="#6e6e6e" stroke-width="1.35" />
<polygon points="647.2,144.36 649.36,144 652,145.8 649.36,147.6 647.2,147.24" fill="none" stroke="#6e6e6e" stroke-width="0.94" />
<text class="n" transform="translate(699.8,201.7) scale(0.8,1)">9</text>
<text class="s" transform="translate(661.2,105.61) scale(0.75,1)" letter-spacing="-0.67">扩散分离器</text>
<text class="s" transform="translate(661.7,183.61) scale(0.75,1)" letter-spacing="-0.67">布袋除尘器</text>
<path d="M795.2,17.599999999999998 Q795.2,16.4 796.4000000000001,16.4 L886.5999999999999,16.4 Q887.8,16.4 887.8,17.599999999999998" fill="none" stroke="#6e6e6e" stroke-width="1.42" />
<line x1="795.2" y1="189" x2="887.8" y2="189" stroke="#6e6e6e" stroke-width="1.42" />
<line x1="795.2" y1="17.4" x2="795.2" y2="75.5" stroke="#6e6e6e" stroke-width="1.42" />
<line x1="795.2" y1="87" x2="795.2" y2="97" stroke="#6e6e6e" stroke-width="1.42" />
<line x1="795.2" y1="108.8" x2="795.2" y2="119" stroke="#6e6e6e" stroke-width="1.42" />
<line x1="795.2" y1="130.8" x2="795.2" y2="189" stroke="#6e6e6e" stroke-width="1.42" />
<line x1="887.8" y1="17.4" x2="887.8" y2="75.5" stroke="#6e6e6e" stroke-width="1.42" />
<line x1="887.8" y1="87" x2="887.8" y2="97" stroke="#6e6e6e" stroke-width="1.42" />
<line x1="887.8" y1="108.8" x2="887.8" y2="119" stroke="#6e6e6e" stroke-width="1.42" />
<line x1="887.8" y1="130.8" x2="887.8" y2="189" stroke="#6e6e6e" stroke-width="1.42" />
<rect x="839.3" y="24.2" width="10.5" height="4.3" rx="0.8" fill="none" stroke="#6e6e6e" stroke-width="1.49"/>
<path d="M836.6,28.5 L852.3,28.5 L853.9,30.4 L853.9,45.8 L852.3,47.7 L836.6,47.7 L835,45.8 L835,30.4 Z" fill="none" stroke="#6e6e6e" stroke-width="1.49" />
<line x1="835" y1="30.4" x2="853.9" y2="30.4" stroke="#6e6e6e" stroke-width="1.22" />
<line x1="835" y1="45.8" x2="853.9" y2="45.8" stroke="#6e6e6e" stroke-width="1.22" />
<rect x="839.3" y="47.7" width="10.5" height="4.3" rx="0" fill="none" stroke="#6e6e6e" stroke-width="1.35"/>
<polyline points="839.3,52 841.9,80.4 841.9,83.5" fill="none" stroke="#6e6e6e" stroke-width="1.35" />
<polyline points="849.8,52 847.4,80.4 847.4,83.5" fill="none" stroke="#6e6e6e" stroke-width="1.35" />
<line x1="841.9" y1="80.4" x2="847.4" y2="80.4" stroke="#6e6e6e" stroke-width="1.08" />
<rect x="838.1" y="83.5" width="13" height="3.1" rx="1.4" fill="none" stroke="#6e6e6e" stroke-width="1.35"/>
<rect x="840" y="86.6" width="8.6" height="2.4" rx="0" fill="none" stroke="#6e6e6e" stroke-width="1.35"/>
<rect x="840" y="112.5" width="8.6" height="2.9" rx="0.8" fill="none" stroke="#6e6e6e" stroke-width="1.35"/>
<polyline points="840,115.4 829.2,123.6 859.1,123.6 848.6,115.4" fill="none" stroke="#6e6e6e" stroke-width="1.49" />
<path d="M829.2,123.6 L829.2,162 Q829.2,163.2 830.4,163.2 L859.1,163.2 L859.1,123.6" fill="none" stroke="#6e6e6e" stroke-width="1.49" />
<line x1="829.2" y1="126" x2="864.7" y2="126" stroke="#6e6e6e" stroke-width="1.35" />
<line x1="864.7" y1="126" x2="864.7" y2="151.4" stroke="#6e6e6e" stroke-width="1.35" />
<line x1="860.3" y1="126" x2="860.3" y2="151.4" stroke="#6e6e6e" stroke-width="1.08" />
<polygon points="833.4,126.2 831.4,129.3 835.4,129.3" fill="#111"/>
<polygon points="844.1,126.2 842.1,129.3 846.1,129.3" fill="#111"/>
<polygon points="854.8,126.2 852.8,129.3 856.8,129.3" fill="#111"/>
<rect x="859.1" y="151.4" width="9.3" height="11.2" rx="0" fill="#fff" stroke="#6e6e6e" stroke-width="1.49"/>
<line x1="829.5" y1="152.6" x2="838" y2="152.6" stroke="#555" stroke-width="0.8" />
<line x1="851.1" y1="152.6" x2="858.9" y2="152.6" stroke="#555" stroke-width="0.8" />
<line x1="829.5" y1="154.15" x2="838" y2="154.15" stroke="#555" stroke-width="0.8" />
<line x1="851.1" y1="154.15" x2="858.9" y2="154.15" stroke="#555" stroke-width="0.8" />
<line x1="829.5" y1="155.7" x2="838" y2="155.7" stroke="#555" stroke-width="0.8" />
<line x1="851.1" y1="155.7" x2="858.9" y2="155.7" stroke="#555" stroke-width="0.8" />
<line x1="829.5" y1="157.25" x2="838" y2="157.25" stroke="#555" stroke-width="0.8" />
<line x1="851.1" y1="157.25" x2="858.9" y2="157.25" stroke="#555" stroke-width="0.8" />
<line x1="829.5" y1="158.8" x2="838" y2="158.8" stroke="#555" stroke-width="0.8" />
<line x1="851.1" y1="158.8" x2="858.9" y2="158.8" stroke="#555" stroke-width="0.8" />
<line x1="829.5" y1="160.35" x2="838" y2="160.35" stroke="#555" stroke-width="0.8" />
<line x1="851.1" y1="160.35" x2="858.9" y2="160.35" stroke="#555" stroke-width="0.8" />
<line x1="829.5" y1="161.9" x2="838" y2="161.9" stroke="#555" stroke-width="0.8" />
<line x1="851.1" y1="161.9" x2="858.9" y2="161.9" stroke="#555" stroke-width="0.8" />
<text class="n" transform="translate(873,202.1) scale(0.8,1)">11</text>
<text class="s" transform="translate(826,98.31) scale(0.75,1)" letter-spacing="-0.67">文丘里除尘器</text>
<text class="s" transform="translate(833.2,176.21) scale(0.75,1)" letter-spacing="-0.67">喷淋除尘器</text>
<rect x="777.6" y="230.3" width="13.3" height="11.1" rx="0" fill="#fff" stroke="#6e6e6e" stroke-width="1.49"/>
<ellipse cx="784.25" cy="235.85" rx="5.3" ry="5.3" fill="none" stroke="#6e6e6e" stroke-width="1.35"/>
<line x1="780.43" y1="232.03" x2="788.07" y2="239.67" stroke="#6e6e6e" stroke-width="1.35" />
<line x1="784.4" y1="221.9" x2="784.4" y2="230.3" stroke="#6e6e6e" stroke-width="1.42" />
<ellipse cx="784.4" cy="214.6" rx="8.6" ry="7.4" fill="#fff" stroke="#6e6e6e" stroke-width="1.42"/>
<text class="ci" transform="translate(782.08,218.1) scale(0.5,1)">C</text>
<path d="M833.6,220 Q834.7,220 834.7,218.8 L834.7,213.9 L848.6,213.9 L848.6,238 A18.6,13.2 0 0 1 830,251.2 A17.2,14.4 0 0 1 812.8,236.8 A18.2,17 0 0 1 831,219.8 L833.6,220" fill="none" stroke="#6e6e6e" stroke-width="1.49" />
<ellipse cx="830.4" cy="235.8" rx="8.1" ry="7.3" fill="none" stroke="#6e6e6e" stroke-width="1.49"/>
<polyline points="822.3,251.2 812.8,257.7 848.4,257.7 838.2,251.2" fill="none" stroke="#6e6e6e" stroke-width="1.49" />
<text class="n" transform="translate(857.3,238.4) scale(0.8,1)">10</text>
<line x1="681.3" y1="267" x2="696.7" y2="267" stroke="#6e6e6e" stroke-width="1.35" />
<line x1="681.3" y1="269.2" x2="696.7" y2="269.2" stroke="#6e6e6e" stroke-width="1.35" />
<path d="M696.7,264.5 L716.5,264.5 A10.5,10.5 0 0 1 720.5,284.5 L707.5,284.5 A11.2,10 0 0 1 702.9,271.7 L696.7,271.7 Z" fill="none" stroke="#6e6e6e" stroke-width="1.49" />
<ellipse cx="714" cy="274.8" rx="5.6" ry="5.6" fill="none" stroke="#6e6e6e" stroke-width="1.35"/>
<polygon points="714,274.8 720,271.7 720,277.8" fill="#fff" stroke="#6e6e6e" stroke-width="1.22" />
<polyline points="707.2,284.5 702.9,288.3 725.4,288.3 721.3,284.5" fill="none" stroke="#6e6e6e" stroke-width="1.49" />
<line x1="720" y1="273.4" x2="734.8" y2="273.4" stroke="#6e6e6e" stroke-width="1.35" />
<line x1="720" y1="276.4" x2="734.8" y2="276.4" stroke="#6e6e6e" stroke-width="1.35" />
<rect x="734.8" y="271.7" width="8.8" height="6.3" rx="0" fill="#fff" stroke="#6e6e6e" stroke-width="1.49"/>
<ellipse cx="739.2" cy="274.85" rx="2.7" ry="2.7" fill="none" stroke="#6e6e6e" stroke-width="1.35"/>
<line x1="737.26" y1="276.79" x2="741.14" y2="272.91" stroke="#6e6e6e" stroke-width="1.35" />
<line x1="743.6" y1="273.4" x2="752.4" y2="273.4" stroke="#6e6e6e" stroke-width="1.35" />
<line x1="743.6" y1="276.4" x2="752.4" y2="276.4" stroke="#6e6e6e" stroke-width="1.35" />
<polyline points="752.4,273.4 759.5,264 759.5,285.2 752.4,276.4" fill="none" stroke="#6e6e6e" stroke-width="1.35" />
<rect x="759.5" y="264" width="7.7" height="21.2" rx="0" fill="none" stroke="#6e6e6e" stroke-width="1.49"/>
<line x1="759.5" y1="264" x2="767.2" y2="285.2" stroke="#6e6e6e" stroke-width="1.22" />
<line x1="759.5" y1="285.2" x2="767.2" y2="264" stroke="#6e6e6e" stroke-width="1.22" />
<line x1="761.3" y1="264" x2="761.3" y2="285.2" stroke="#6e6e6e" stroke-width="0.94" />
<line x1="765.4" y1="264" x2="765.4" y2="285.2" stroke="#6e6e6e" stroke-width="0.94" />
<line x1="738.9" y1="264.9" x2="738.9" y2="271.7" stroke="#6e6e6e" stroke-width="1.42" />
<ellipse cx="738.9" cy="257.5" rx="8.7" ry="7.3" fill="#fff" stroke="#6e6e6e" stroke-width="1.42"/>
<text class="ci" transform="translate(736.58,261) scale(0.5,1)">C</text>
<text class="n" transform="translate(709.6,301.8) scale(0.8,1)">14</text>
<line x1="378.5" y1="361.6" x2="889" y2="361.6" stroke="#777" stroke-width="1.8" />
<text class="tt" transform="translate(587.8,387.04) scale(0.778,1)">代号说明</text>
<text class="ld" transform="translate(457,407.58) scale(0.667,1)">1</text>
<line x1="461.4" y1="404.08" x2="464.7" y2="404.08" stroke="#303030" stroke-width="1.3" />
<text class="lg" transform="translate(465.2,407.68) scale(0.8,1)">空气过滤器</text>
<text class="ld" transform="translate(457,422.78) scale(0.667,1)">2</text>
<line x1="461.4" y1="419.28" x2="464.7" y2="419.28" stroke="#303030" stroke-width="1.3" />
<text class="lg" transform="translate(465.2,422.88) scale(0.8,1)">送风机</text>
<text class="ld" transform="translate(457,437.98) scale(0.667,1)">3</text>
<line x1="461.4" y1="434.48" x2="464.7" y2="434.48" stroke="#303030" stroke-width="1.3" />
<text class="lg" transform="translate(465.2,438.08) scale(0.8,1)">加热器</text>
<path d="M464.2,444 Q460.6,449.74 464.2,455.28" fill="none" stroke="#303030" stroke-width="0.95" />
<text class="lg" transform="translate(466,453.28) scale(0.8,1)">蒸汽</text>
<text class="lg" transform="translate(488.16,453.28) scale(0.8,1)">电</text>
<path d="M498.04,452.9 q1.1,0.9 -0.5,2.6" fill="none" stroke="#303030" stroke-width="0.9" />
<ellipse cx="498.04" cy="452.79" rx="0.55" ry="0.55" fill="#303030" stroke="#303030" stroke-width="0.2"/>
<text class="lg" transform="translate(504.84,453.28) scale(0.8,1)">燃油</text>
<text class="lg" transform="translate(527,453.28) scale(0.8,1)">气</text>
<path d="M536.88,452.9 q1.1,0.9 -0.5,2.6" fill="none" stroke="#303030" stroke-width="0.9" />
<ellipse cx="536.88" cy="452.79" rx="0.55" ry="0.55" fill="#303030" stroke="#303030" stroke-width="0.2"/>
<text class="lg" transform="translate(543.68,453.28) scale(0.8,1)">导热油</text>
<path d="M570.32,452.9 q1.1,0.9 -0.5,2.6" fill="none" stroke="#303030" stroke-width="0.9" />
<ellipse cx="570.32" cy="452.79" rx="0.55" ry="0.55" fill="#303030" stroke="#303030" stroke-width="0.2"/>
<text class="lg" transform="translate(577.12,453.28) scale(0.8,1)">煤</text>
<path d="M587.7,444 Q591.3,449.74 587.7,455.28" fill="none" stroke="#303030" stroke-width="0.95" />
<text class="ld" transform="translate(457,468.38) scale(0.667,1)">4</text>
<line x1="461.4" y1="464.88" x2="464.7" y2="464.88" stroke="#303030" stroke-width="1.3" />
<text class="lg" transform="translate(465.2,468.48) scale(0.8,1)">料液储罐</text>
<text class="ld" transform="translate(457,483.58) scale(0.667,1)">5</text>
<line x1="461.4" y1="480.08" x2="464.7" y2="480.08" stroke="#303030" stroke-width="1.3" />
<text class="lg" transform="translate(465.2,483.68) scale(0.8,1)">供料泵</text>
<text class="ld" transform="translate(457,498.78) scale(0.667,1)">6</text>
<line x1="461.4" y1="495.28" x2="464.7" y2="495.28" stroke="#303030" stroke-width="1.3" />
<text class="lg" transform="translate(465.2,498.88) scale(0.8,1)">高速离心雾化器</text>
<text class="ld" transform="translate(457,513.98) scale(0.667,1)">7</text>
<line x1="461.4" y1="510.48" x2="464.7" y2="510.48" stroke="#303030" stroke-width="1.3" />
<text class="lg" transform="translate(465.2,514.08) scale(0.8,1)">喷雾干燥塔</text>
<text class="ld" transform="translate(683.4,408.88) scale(0.667,1)">8</text>
<line x1="687.8" y1="405.38" x2="691.1" y2="405.38" stroke="#303030" stroke-width="1.3" />
<text class="lg" transform="translate(691.6,408.98) scale(0.8,1)">一级收尘器</text>
<path d="M740.2,399.7 Q736.6,405.44 740.2,410.98" fill="none" stroke="#303030" stroke-width="0.95" />
<text class="lg" transform="translate(741.8,408.98) scale(0.8,1)">旋风分离器</text>
<path d="M785.7,399.7 Q789.3,405.44 785.7,410.98" fill="none" stroke="#303030" stroke-width="0.95" />
<text class="ld" transform="translate(683.4,424.08) scale(0.667,1)">9</text>
<line x1="687.8" y1="420.58" x2="691.1" y2="420.58" stroke="#303030" stroke-width="1.3" />
<text class="lg" transform="translate(691.6,424.18) scale(0.8,1)">二级收尘器</text>
<path d="M740.2,414.9 Q736.6,420.64 740.2,426.18" fill="none" stroke="#303030" stroke-width="0.95" />
<text class="lg" transform="translate(741.8,424.18) scale(0.8,1)">扩散分离器</text>
<text class="lg" transform="translate(789,424.18) scale(0.8,1)">布袋除尘器</text>
<path d="M832.9,414.9 Q836.5,420.64 832.9,426.18" fill="none" stroke="#303030" stroke-width="0.95" />
<text class="ld" transform="translate(683.4,439.28) scale(0.667,1)">10</text>
<line x1="692" y1="435.78" x2="695.3" y2="435.78" stroke="#303030" stroke-width="1.3" />
<text class="lg" transform="translate(696,439.38) scale(0.8,1)">引风机</text>
<text class="ld" transform="translate(683.4,454.48) scale(0.667,1)">11</text>
<line x1="692" y1="450.98" x2="695.3" y2="450.98" stroke="#303030" stroke-width="1.3" />
<text class="lg" transform="translate(696,454.58) scale(0.8,1)">湿法除尘器</text>
<path d="M744.6,445.3 Q741,451.04 744.6,456.58" fill="none" stroke="#303030" stroke-width="0.95" />
<text class="lg" transform="translate(746.2,454.58) scale(0.8,1)">文丘里</text>
<text class="lg" transform="translate(776.64,454.58) scale(0.8,1)">喷淋</text>
<path d="M795.4,445.3 Q799,451.04 795.4,456.58" fill="none" stroke="#303030" stroke-width="0.95" />
<text class="ld" transform="translate(683.4,469.68) scale(0.667,1)">12</text>
<line x1="692" y1="466.18" x2="695.3" y2="466.18" stroke="#303030" stroke-width="1.3" />
<text class="lg" transform="translate(696,469.78) scale(0.8,1)">振动流化床</text>
<text class="ld" transform="translate(683.4,484.88) scale(0.667,1)">13</text>
<line x1="692" y1="481.38" x2="695.3" y2="481.38" stroke="#303030" stroke-width="1.3" />
<text class="lg" transform="translate(696,484.98) scale(0.8,1)">振动分级筛</text>
<text class="ld" transform="translate(683.4,500.08) scale(0.667,1)">14</text>
<line x1="692" y1="496.58" x2="695.3" y2="496.58" stroke="#303030" stroke-width="1.3" />
<text class="lg" transform="translate(696,500.18) scale(0.8,1)">回流风机</text>
<text class="ld" transform="translate(683.4,515.28) scale(0.667,1)">15</text>
<line x1="692" y1="511.78" x2="695.3" y2="511.78" stroke="#303030" stroke-width="1.3" />
<text class="lg" transform="translate(696,515.38) scale(0.8,1)">固定流化床</text>
<text class="lp" transform="translate(459.8,533.38) scale(0.5,1)">P</text>
<line x1="464" y1="530.08" x2="467.3" y2="530.08" stroke="#303030" stroke-width="1.3" />
<text class="lg" transform="translate(468,533.68) scale(0.8,1)">压力</text>
<text class="lp" transform="translate(527.4,533.38) scale(0.5,1)">T</text>
<line x1="532.6" y1="530.08" x2="535.9" y2="530.08" stroke="#303030" stroke-width="1.3" />
<text class="lg" transform="translate(536.6,533.68) scale(0.8,1)">温度</text>
<text class="lp" transform="translate(598,533.38) scale(0.5,1)">A</text>
<line x1="602.8" y1="530.08" x2="606.1" y2="530.08" stroke="#303030" stroke-width="1.3" />
<text class="lg" transform="translate(606.8,533.68) scale(0.8,1)">电流</text>
<text class="lp" transform="translate(667.7,533.38) scale(0.5,1)">C</text>
<line x1="671.8" y1="530.08" x2="675.1" y2="530.08" stroke="#303030" stroke-width="1.3" />
<text class="lg" transform="translate(675.8,533.68) scale(0.8,1)">控制</text>
<text class="nt" transform="translate(50.6,455.74) scale(0.857,1)">注</text>
<ellipse cx="64.4" cy="449.34" rx="0.8" ry="0.8" fill="#303030" stroke="#303030" stroke-width="0.2"/>
<ellipse cx="64.4" cy="455.14" rx="0.8" ry="0.8" fill="#303030" stroke="#303030" stroke-width="0.2"/>
<text class="nt" transform="translate(72.6,455.74) scale(0.857,1)">用户可根据当地能源情况选定加热方式</text>
<path d="M266.64,454.54 q1.6,1.2 -0.8,3.8" fill="none" stroke="#303030" stroke-width="1.2" />
<ellipse cx="266.64" cy="454.34" rx="0.8" ry="0.8" fill="#303030" stroke="#303030" stroke-width="0.3"/>
<text class="nt" transform="translate(61.4,475.34) scale(0.857,1)">根据物料特性选择收集</text>
<path d="M175.8,472.14 q2.4,1.2 3.0,3.4" fill="none" stroke="#303030" stroke-width="1.4" />
<text class="nt" transform="translate(185.92,475.34) scale(0.857,1)">除尘方式</text>
<ellipse cx="233.4" cy="474.34" rx="1.3" ry="1.3" fill="none" stroke="#303030" stroke-width="0.8"/>
</g>
</svg>
</body></html>
